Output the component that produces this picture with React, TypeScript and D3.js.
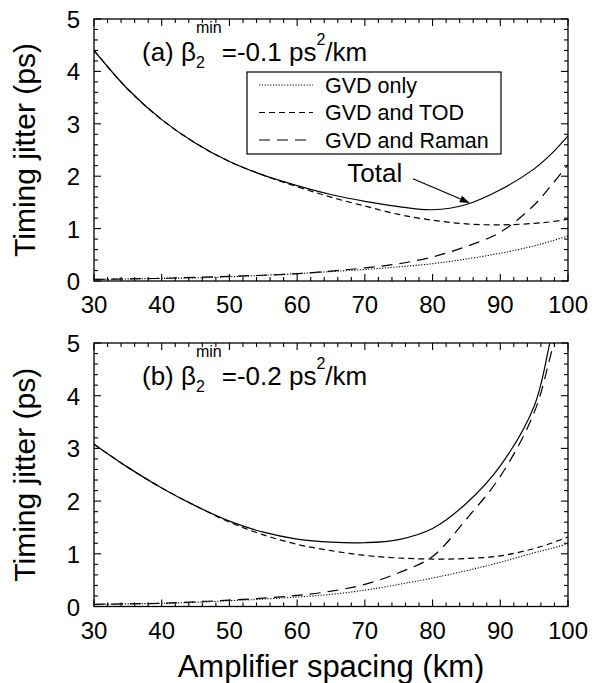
import React, { useEffect, useRef } from "react";
import * as d3 from "d3";

// Amplifier spacing (km)
const km = [30, 35, 40, 45, 50, 55, 60, 65, 70, 75, 80, 85, 90, 95, 97.5, 100];

// Panel (a): beta2min = -0.1 ps^2/km
const aGvdOnly = [0.03, 0.04, 0.05, 0.06, 0.08, 0.11, 0.14, 0.18, 0.22, 0.27, 0.33, 0.42, 0.53, 0.67, 0.76, 0.86];
const aGvdTod = [4.4, 3.66, 3.08, 2.63, 2.28, 2.02, 1.8, 1.6, 1.43, 1.27, 1.16, 1.09, 1.07, 1.1, 1.13, 1.18];
const aGvdRaman = [0.03, 0.04, 0.05, 0.07, 0.09, 0.11, 0.14, 0.19, 0.25, 0.33, 0.46, 0.66, 0.93, 1.45, 1.82, 2.22];
const aTotal = [4.4, 3.66, 3.08, 2.63, 2.28, 2.02, 1.82, 1.65, 1.52, 1.42, 1.36, 1.46, 1.74, 2.14, 2.42, 2.77];

// Panel (b): beta2min = -0.2 ps^2/km
const bGvdOnly = [0.04, 0.05, 0.06, 0.08, 0.11, 0.14, 0.18, 0.23, 0.31, 0.42, 0.54, 0.68, 0.84, 1.02, 1.1, 1.19];
const bGvdTod = [3.08, 2.64, 2.25, 1.91, 1.6, 1.36, 1.18, 1.06, 0.97, 0.92, 0.9, 0.91, 0.96, 1.1, 1.2, 1.32];
const bGvdRaman = [0.04, 0.05, 0.06, 0.09, 0.12, 0.16, 0.21, 0.29, 0.42, 0.64, 0.95, 1.66, 2.47, 3.68, 4.8, 6.1];
const bTotal = [3.08, 2.64, 2.25, 1.91, 1.62, 1.41, 1.28, 1.22, 1.21, 1.27, 1.48, 1.96, 2.67, 3.8, 5.1, 6.4];

const xTicks = [30, 40, 50, 60, 70, 80, 90, 100];
const yTicks = [0, 1, 2, 3, 4, 5];
const legendLabels = ["GVD only", "GVD and TOD", "GVD and Raman"];
const panelLetters = ["(a)", "(b)"];
const betaValues = ["-0.1", "-0.2"];

const FONT = "'Liberation Sans', Arial, Helvetica, sans-serif";

export default function App() {
  const ref = useRef<SVGSVGElement>(null);

  useEffect(() => {
    const svg = d3.select(ref.current);
    svg.selectAll("*").remove();

    const x = d3.scaleLinear().domain([30, 100]).range([94, 568]);

    const panels = [
      { top: 19, bottom: 281, letter: panelLetters[0], beta: betaValues[0], gvd: aGvdOnly, tod: aGvdTod, raman: aGvdRaman, total: aTotal, legend: true },
      { top: 343, bottom: 606.5, letter: panelLetters[1], beta: betaValues[1], gvd: bGvdOnly, tod: bGvdTod, raman: bGvdRaman, total: bTotal, legend: false },
    ];

    const styles = [
      { key: "gvd", dash: "1.2,1.6", width: 1.1 },
      { key: "tod", dash: "6,4", width: 1.2 },
      { key: "raman", dash: "11,7", width: 1.2 },
      { key: "total", dash: null, width: 1.2 },
    ];

    panels.forEach((p, pi) => {
      const y = d3.scaleLinear().domain([0, 5]).range([p.bottom, p.top]);
      const g = svg.append("g");
      const clipId = `clip${pi}`;
      svg.append("defs").append("clipPath").attr("id", clipId)
        .append("rect").attr("x", x(30)).attr("y", p.top).attr("width", x(100) - x(30)).attr("height", p.bottom - p.top);

      // curves
      const line = d3.line<number>()
        .x((_, i) => x(km[i]))
        .y((d) => y(d))
        .curve(d3.curveCatmullRom.alpha(0.5));
      styles.forEach((s) => {
        const data = (p as any)[s.key] as number[];
        g.append("path")
          .attr("d", line(data))
          .attr("fill", "none")
          .attr("stroke", "#000")
          .attr("stroke-width", s.width)
          .attr("stroke-dasharray", s.dash)
          .attr("clip-path", `url(#${clipId})`);
      });

      // frame
      g.append("rect")
        .attr("x", x(30)).attr("y", p.top)
        .attr("width", x(100) - x(30)).attr("height", p.bottom - p.top)
        .attr("fill", "none").attr("stroke", "#000").attr("stroke-width", 1.3);

      // ticks (inward, all four sides)
      const xMinor = d3.range(30, 100.01, 2);
      xMinor.forEach((v) => {
        const major = Math.abs(v % 10) < 1e-6;
        const len = major ? 7 : 4;
        g.append("line").attr("x1", x(v)).attr("x2", x(v)).attr("y1", p.bottom).attr("y2", p.bottom - len).attr("stroke", "#000").attr("stroke-width", 1.1);
        g.append("line").attr("x1", x(v)).attr("x2", x(v)).attr("y1", p.top).attr("y2", p.top + len).attr("stroke", "#000").attr("stroke-width", 1.1);
      });
      const yMinor = d3.range(0, 5.001, 0.2);
      yMinor.forEach((v) => {
        const major = Math.abs(v - Math.round(v)) < 1e-6;
        const len = major ? 7 : 4;
        g.append("line").attr("x1", x(30)).attr("x2", x(30) + len).attr("y1", y(v)).attr("y2", y(v)).attr("stroke", "#000").attr("stroke-width", 1.1);
        g.append("line").attr("x1", x(100)).attr("x2", x(100) - len).attr("y1", y(v)).attr("y2", y(v)).attr("stroke", "#000").attr("stroke-width", 1.1);
      });

      // tick labels
      xTicks.forEach((v) => {
        g.append("text").attr("x", x(v)).attr("y", p.bottom + 32)
          .attr("text-anchor", "middle").attr("font-family", FONT).attr("font-size", 24).text(String(v));
      });
      yTicks.forEach((v) => {
        g.append("text").attr("x", 80).attr("y", y(v) + 9)
          .attr("text-anchor", "end").attr("font-family", FONT).attr("font-size", 24).text(String(v));
      });

      // y axis title
      const cy = (p.top + p.bottom) / 2;
      g.append("text")
        .attr("transform", `translate(35,${cy}) rotate(-90)`)
        .attr("text-anchor", "middle").attr("font-family", FONT).attr("font-size", 30)
        .text("Timing jitter (ps)");

      // panel label with stacked sub/superscripts
      const base = p.top + 42;
      let cx = 142;
      const addText = (t: string, size: number, yy: number) => {
        const el = g.append("text").attr("x", cx).attr("y", yy).attr("font-family", FONT).attr("font-size", size).text(t);
        return (el.node() as SVGTextElement).getComputedTextLength();
      };
      cx += addText(`${p.letter} \u03B2`, 26, base);
      const w1 = addText("2", 16, base + 7);
      const w2 = addText("min", 16, base - 28);
      cx += Math.max(w1, w2);
      cx += addText(`=${p.beta} ps`, 26, base);
      cx += addText("2", 16, base - 16);
      addText("/km", 26, base);

      if (p.legend) {
        // legend box
        const lx = 247, ly = 72, lw = 254, lh = 82;
        g.append("rect").attr("x", lx).attr("y", ly).attr("width", lw).attr("height", lh)
          .attr("fill", "#fff").attr("stroke", "#000").attr("stroke-width", 1.2);
        legendLabels.forEach((lab, i) => {
          const yy = ly + 13 + i * 27.5;
          g.append("line").attr("x1", lx + 12).attr("x2", lx + 66).attr("y1", yy).attr("y2", yy)
            .attr("stroke", "#000").attr("stroke-width", styles[i].width).attr("stroke-dasharray", styles[i].dash);
          g.append("text").attr("x", lx + 78).attr("y", yy + 7.5)
            .attr("font-family", FONT).attr("font-size", 21.5).text(lab);
        });

        // "Total" annotation with arrow
        g.append("text").attr("x", x(67.4)).attr("y", y(1.89))
          .attr("font-family", FONT).attr("font-size", 26).text("Total");
        const x1 = x(77.1), y1 = y(1.95), x2 = x(85.5), y2 = y(1.49);
        const ang = Math.atan2(y2 - y1, x2 - x1);
        const hl = 10, hw = 3.5;
        const bx = x2 - hl * Math.cos(ang), by = y2 - hl * Math.sin(ang);
        g.append("line").attr("x1", x1).attr("y1", y1).attr("x2", bx).attr("y2", by).attr("stroke", "#000").attr("stroke-width", 1.2);
        g.append("polygon")
          .attr("points", [
            [x2, y2],
            [bx + hw * Math.sin(ang), by - hw * Math.cos(ang)],
            [bx - hw * Math.sin(ang), by + hw * Math.cos(ang)],
          ].map((q) => q.join(",")).join(" "))
          .attr("fill", "#000");
      }
    });

    // x axis title
    svg.append("text").attr("x", 331).attr("y", 677)
      .attr("text-anchor", "middle").attr("font-family", FONT).attr("font-size", 31)
      .text("Amplifier spacing (km)");
  }, []);

  return (
    <svg
      ref={ref}
      width={592}
      height={683}
      style={{ position: "absolute", left: 0, top: 0, background: "#fff" }}
    />
  );
}
